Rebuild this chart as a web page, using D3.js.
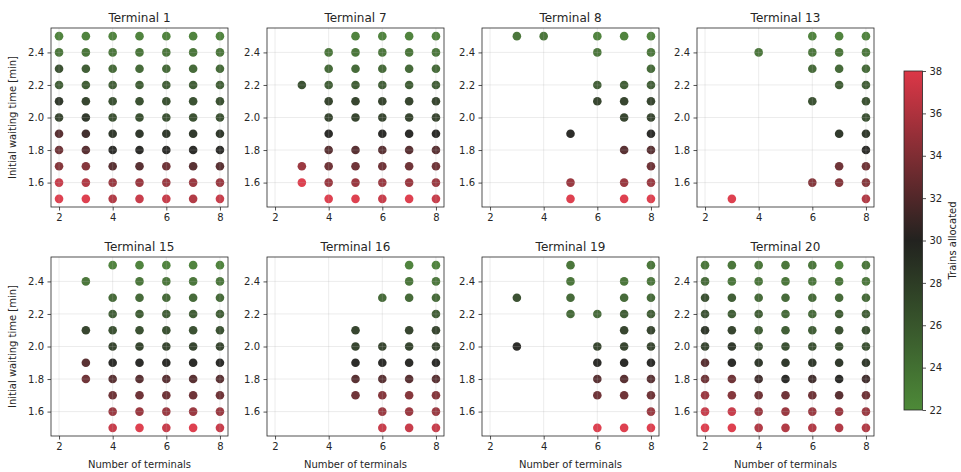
<!DOCTYPE html>
<html>
<head>
<meta charset="utf-8">
<script src="https://cdn.jsdelivr.net/npm/d3@7"></script>
<style>
  html, body { margin: 0; padding: 0; background: #fff; }
  svg { display: block; font-family: "DejaVu Sans", sans-serif; }
</style>
</head>
<body>
<svg id="chart" width="961" height="472"></svg>
<script>
// Grid of simulation settings
const terminalCounts = [2, 3, 4, 5, 6, 7, 8];
const waitTimes = [2.5, 2.4, 2.3, 2.2, 2.1, 2.0, 1.9, 1.8, 1.7, 1.6, 1.5];
const xTicks = [2, 4, 6, 8];
const yTicks = [1.6, 1.8, 2.0, 2.2, 2.4];
const colorTicks = [22, 24, 26, 28, 30, 32, 34, 36, 38];
const panelTitles = ["Terminal 1", "Terminal 7", "Terminal 8", "Terminal 13",
                     "Terminal 15", "Terminal 16", "Terminal 19", "Terminal 20"];

// Trains allocated: rows follow waitTimes, columns follow terminalCounts (null = no result)
const n = null;
const terminal1 = [
  [23,23,23,23,23,23,23],
  [24,24,24,24,24,24,24],
  [27,26,25,25,25,25,25],
  [26,26,26,26,26,26,26],
  [29,28,27,27,27,27,27],
  [28,29,27,27,27,27,27],
  [32,31,29,29,29,29,29],
  [33,32,30,30,30,30,30],
  [34,34,32,32,33,32,32],
  [37,36,35,35,35,35,35],
  [38,38,36,37,37,36,37]
];
const terminal7 = [
  [n,n,n,23,23,23,23],
  [n,n,24,24,24,24,24],
  [n,n,25,25,25,25,25],
  [n,27,26,26,26,26,26],
  [n,n,28,28,28,28,28],
  [n,n,28,28,28,28,28],
  [n,n,30,n,30,30,30],
  [n,n,32,32,32,32,32],
  [n,35,33,33,33,33,33],
  [n,38,35,35,35,35,35],
  [n,n,38,38,37,38,37]
];
const terminal8 = [
  [n,24,24,n,23,23,23],
  [n,n,n,n,24,n,24],
  [n,n,n,n,n,n,25],
  [n,n,n,n,26,26,26],
  [n,n,n,n,28,28,28],
  [n,n,n,n,n,28,28],
  [n,n,n,30,n,n,30],
  [n,n,n,n,n,32,32],
  [n,n,n,n,n,n,33],
  [n,n,n,35,n,35,35],
  [n,n,n,38,n,38,38]
];
const terminal13 = [
  [n,n,n,n,23,23,23],
  [n,n,24,n,24,24,24],
  [n,n,n,n,25,25,25],
  [n,n,n,n,n,26,26],
  [n,n,n,n,27,n,27],
  [n,n,n,n,n,n,27],
  [n,n,n,n,n,29,29],
  [n,n,n,n,n,n,30],
  [n,n,n,n,n,33,33],
  [n,n,n,n,34,34,34],
  [n,38,n,n,n,n,36]
];
const terminal15 = [
  [n,n,23,23,23,23,23],
  [n,24,n,24,24,24,24],
  [n,n,25,25,25,25,25],
  [n,n,26,26,26,26,26],
  [n,28,27,27,27,27,27],
  [n,n,28,28,28,28,28],
  [n,32,30,30,30,30,30],
  [n,33,32,32,32,32,32],
  [n,n,33,33,33,33,33],
  [n,n,35,35,35,35,35],
  [n,n,37,38,37,38,37]
];
const terminal16 = [
  [n,n,n,n,n,23,23],
  [n,n,n,n,n,24,24],
  [n,n,n,n,25,25,25],
  [n,n,n,n,n,n,26],
  [n,n,n,28,n,28,28],
  [n,n,n,28,28,28,28],
  [n,n,n,30,30,30,30],
  [n,n,n,32,32,32,32],
  [n,n,n,33,34,34,34],
  [n,n,n,n,35,35,35],
  [n,n,n,n,37,37,37]
];
const terminal19 = [
  [n,n,n,24,n,n,24],
  [n,n,n,24,n,24,24],
  [n,27,n,25,n,25,25],
  [n,n,n,25,25,26,26],
  [n,n,n,n,n,28,28],
  [n,30,n,n,28,28,28],
  [n,n,n,n,30,30,30],
  [n,n,n,n,32,32,32],
  [n,n,n,n,33,33,33],
  [n,n,n,n,n,n,35],
  [n,n,n,n,38,38,38]
];
const terminal20 = [
  [24,24,24,24,24,23,24],
  [25,24,24,24,24,24,24],
  [27,26,25,25,25,25,25],
  [27,26,26,25,25,26,26],
  [29,28,26,26,26,27,27],
  [28,29,27,27,27,27,27],
  [32,30,29,29,29,29,29],
  [33,33,31,30,31,30,31],
  [35,34,33,33,33,32,33],
  [37,37,35,35,35,35,35],
  [38,38,36,36,36,36,36]
];
const panelValues = [terminal1, terminal7, terminal8, terminal13,
                     terminal15, terminal16, terminal19, terminal20];

// Layout
const svg = d3.select("#chart");
const colLefts = [51, 267, 482, 697];
const rowTops = [28, 257];
const panelW = 177, panelH = 179;

const color = d3.scaleLinear()
  .domain([22, 30, 38])
  .range(["#4d8a38", "#22221f", "#dc3747"])
  .interpolate(d3.interpolateRgb)
  .clamp(true);

const x = d3.scaleLinear().domain([1.7, 8.3]).range([0, panelW]);
const y = d3.scaleLinear().domain([1.45, 2.55]).range([panelH, 0]);

panelValues.forEach((matrix, i) => {
  const row = Math.floor(i / 4), col = i % 4;
  const g = svg.append("g")
    .attr("transform", `translate(${colLefts[col]},${rowTops[row]})`);

  const points = [];
  matrix.forEach((vals, r) => vals.forEach((v, c) => {
    if (v !== null) points.push({ n: terminalCounts[c], w: waitTimes[r], v });
  }));

  g.append("g").selectAll("circle")
    .data(points)
    .join("circle")
    .attr("cx", d => x(d.n))
    .attr("cy", d => y(d.w))
    .attr("r", 4.3)
    .attr("fill", d => color(d.v))
    .attr("fill-opacity", 0.95);

  // light grid drawn over the markers
  const grid = g.append("g").attr("stroke", "#b0b0b0").attr("stroke-opacity", 0.3).attr("stroke-width", 0.8);
  grid.selectAll(".gx").data(xTicks).join("line")
    .attr("x1", d => x(d)).attr("x2", d => x(d)).attr("y1", 0).attr("y2", panelH);
  grid.selectAll(".gy").data(yTicks).join("line")
    .attr("y1", d => y(d)).attr("y2", d => y(d)).attr("x1", 0).attr("x2", panelW);

  const xAxis = g.append("g")
    .attr("transform", `translate(0,${panelH})`)
    .call(d3.axisBottom(x).tickValues(xTicks).tickSize(3.5).tickPadding(3.5).tickFormat(d3.format("d")));
  const yAxis = g.append("g")
    .call(d3.axisLeft(y).tickValues(yTicks).tickSize(3.5).tickPadding(3.5).tickFormat(d3.format(".1f")));
  [xAxis, yAxis].forEach(a => {
    a.select(".domain").remove();
    a.selectAll("text").attr("font-size", 10).attr("fill", "#262626").attr("font-family", "DejaVu Sans");
    a.selectAll("line").attr("stroke", "#262626").attr("stroke-width", 0.8);
  });

  g.append("rect")
    .attr("width", panelW).attr("height", panelH)
    .attr("fill", "none").attr("stroke", "#262626").attr("stroke-width", 0.8);

  g.append("text")
    .attr("x", panelW / 2).attr("y", -6)
    .attr("text-anchor", "middle")
    .attr("font-size", 12).attr("fill", "#262626")
    .text(panelTitles[i]);

  if (col === 0) {
    g.append("text")
      .attr("transform", `translate(-35,${panelH / 2}) rotate(-90)`)
      .attr("text-anchor", "middle")
      .attr("font-size", 10).attr("fill", "#262626")
      .text("Initial waiting time [min]");
  }
  if (row === 1) {
    g.append("text")
      .attr("x", panelW / 2).attr("y", panelH + 32)
      .attr("text-anchor", "middle")
      .attr("font-size", 10).attr("fill", "#262626")
      .text("Number of terminals");
  }
});

// Colour bar
const cbX = 904, cbTop = 71, cbH = 339, cbW = 18.5;
const defs = svg.append("defs");
const grad = defs.append("linearGradient")
  .attr("id", "cbGrad").attr("x1", 0).attr("y1", 1).attr("x2", 0).attr("y2", 0);
d3.range(0, 17).forEach(k => {
  const v = 22 + k;
  grad.append("stop").attr("offset", (k / 16)).attr("stop-color", color(v));
});
const cb = svg.append("g").attr("transform", `translate(${cbX},${cbTop})`);
cb.append("rect").attr("width", cbW).attr("height", cbH).attr("fill", "url(#cbGrad)");
const cbScale = d3.scaleLinear().domain([22, 38]).range([cbH, 0]);
const cbAxis = cb.append("g")
  .attr("transform", `translate(${cbW},0)`)
  .call(d3.axisRight(cbScale).tickValues(colorTicks).tickSize(3.5).tickPadding(3.5).tickFormat(d3.format("d")));
cbAxis.select(".domain").remove();
cbAxis.selectAll("text").attr("font-size", 10).attr("fill", "#262626").attr("font-family", "DejaVu Sans");
cbAxis.selectAll("line").attr("stroke", "#262626").attr("stroke-width", 0.8);
cb.append("rect").attr("width", cbW).attr("height", cbH)
  .attr("fill", "none").attr("stroke", "#262626").attr("stroke-width", 0.8);
cb.append("text")
  .attr("transform", `translate(52,${cbH / 2}) rotate(-90)`)
  .attr("text-anchor", "middle")
  .attr("font-size", 10).attr("fill", "#262626")
  .text("Trains allocated");
</script>
</body>
</html>
